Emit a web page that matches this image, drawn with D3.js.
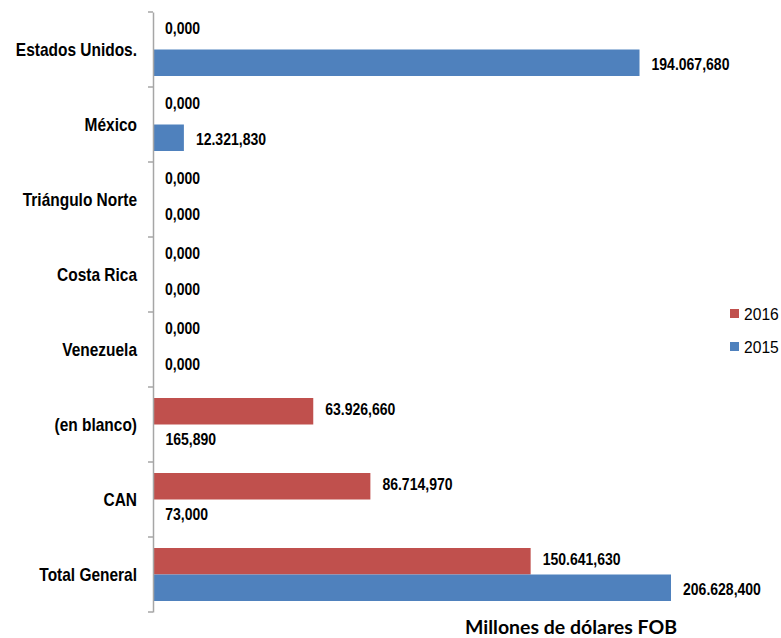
<!DOCTYPE html>
<html><head><meta charset="utf-8">
<script src="https://cdn.jsdelivr.net/npm/d3@7"></script>
<style>body{margin:0;background:#fff}svg{display:block}</style>
</head><body>
<svg id="c" width="781" height="638"></svg>
<script>
const categories = ["Estados Unidos.", "México", "Triángulo Norte", "Costa Rica", "Venezuela", "(en blanco)", "CAN", "Total General"];
const series = ["2016", "2015"];
const values2016 = [0, 0, 0, 0, 0, 63926.66, 86714.97, 150641.63];
const values2015 = [194067.68, 12321.83, 0, 0, 0, 165.89, 73.0, 206628.4];
const colors = ["#C0504D", "#4F81BD"];
const axisTitle = "Millones de dólares FOB";

const svg = d3.select("#c");
const loc = d3.formatLocale({decimal: ",", thousands: ".", grouping: [3], currency: ["", ""]});
const fmt = loc.format(",.3f");

const y = d3.scaleBand().domain(categories).range([12, 612]).paddingInner(0).paddingOuter(0);
const ySub = d3.scaleBand().domain(series).range([0, y.bandwidth()]).paddingInner(0).paddingOuter(0.415);
const maxV = d3.max(values2015.concat(values2016));
const x = d3.scaleLinear().domain([0, maxV]).range([153, 671]);

const data = [];
categories.forEach((c, i) => {
  data.push({cat: c, s: "2016", v: values2016[i], col: colors[0]});
  data.push({cat: c, s: "2015", v: values2015[i], col: colors[1]});
});

// bars
svg.append("g").selectAll("rect").data(data.filter(d => d.v > 0)).join("rect")
  .attr("x", x(0))
  .attr("y", d => y(d.cat) + ySub(d.s))
  .attr("width", d => Math.max(0.8, x(d.v) - x(0)))
  .attr("height", ySub.bandwidth())
  .attr("fill", d => d.col);

// axis
const ax = svg.append("g").attr("transform", `translate(${x(0)},0)`)
  .call(d3.axisLeft(y).tickValues([]).tickSize(0));
ax.select(".domain").attr("stroke", "#a6a6a6").attr("stroke-width", 1.5);
const bounds = categories.map(c => y(c)).concat([y.range()[1]]);
ax.selectAll("line.b").data(bounds).join("line").attr("class", "b")
  .attr("x1", -5).attr("x2", 0).attr("y1", d => d).attr("y2", d => d)
  .attr("stroke", "#a6a6a6").attr("stroke-width", 1.5);

// category labels
svg.append("g").selectAll("text").data(categories).join("text")
  .attr("transform", d => `translate(137,${y(d) + y.bandwidth() / 2 + 6.5}) scale(0.86,1)`)
  .attr("text-anchor", "end")
  .attr("font-family", "Liberation Sans, Arial, sans-serif")
  .attr("font-weight", "bold").attr("font-size", 18).attr("fill", "#000")
  .text(d => d);

// value labels
svg.append("g").selectAll("text").data(data).join("text")
  .attr("transform", d => {
    const cy = y(d.cat) + ySub(d.s) + ySub.bandwidth() / 2;
    const off = d.s === "2016" ? (d.v === 0 ? -8 : -2) : 1;
    return `translate(${x(d.v) + 12},${cy + off + 6}) scale(0.85,1)`;
  })
  .attr("font-family", "Liberation Sans, Arial, sans-serif")
  .attr("font-weight", "bold").attr("font-size", 16.5).attr("fill", "#000")
  .text(d => fmt(d.v));

// legend
const lg = svg.append("g").selectAll("g").data(series).join("g")
  .attr("transform", (d, i) => `translate(730,${309 + i * 33})`);
lg.append("rect").attr("width", 9).attr("height", 9).attr("fill", (d, i) => colors[i]);
lg.append("text").attr("transform", "translate(14,11) scale(0.92,1)")
  .attr("font-family", "Liberation Sans, Arial, sans-serif")
  .attr("font-size", 17).attr("fill", "#000").text(d => d);

// axis title
svg.append("text").attr("x", 465).attr("y", 634)
  .attr("font-family", "Lato, 'Open Sans', sans-serif")
  .attr("font-weight", "bold").attr("font-size", 18).attr("fill", "#000")
  .attr("textLength", 212).attr("lengthAdjust", "spacingAndGlyphs")
  .text(axisTitle);
</script>
</body></html>
